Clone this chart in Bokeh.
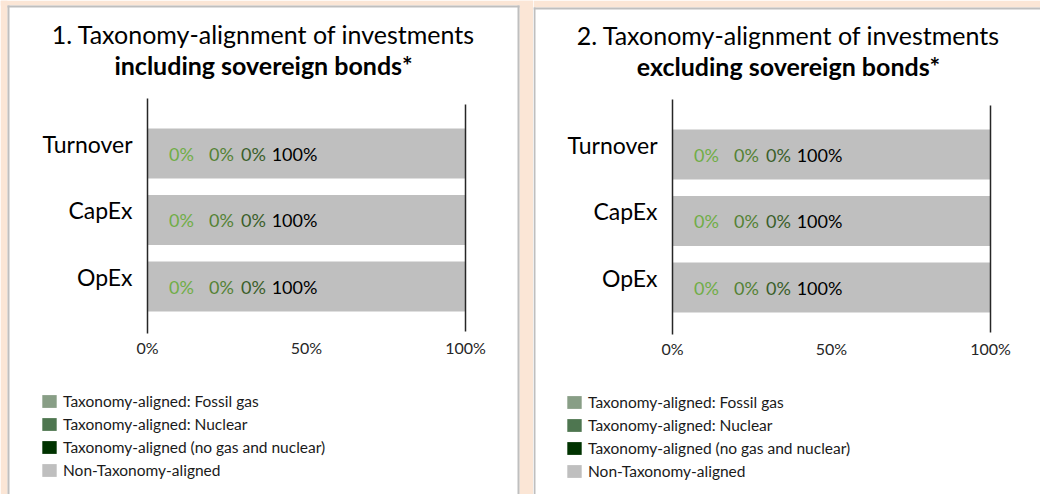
from bokeh.plotting import figure
from bokeh.models import (ColumnDataSource, Range1d, Legend, LegendItem,
                          BoxAnnotation, Row)
from bokeh.core.properties import value
from bokeh.embed import file_html
from bokeh.resources import INLINE

# ---------------- data ----------------
categories = ["Turnover", "CapEx", "OpEx"]
series_names = [
    "Taxonomy-aligned: Fossil gas",
    "Taxonomy-aligned: Nuclear",
    "Taxonomy-aligned (no gas and nuclear)",
    "Non-Taxonomy-aligned",
]
incl_fossil_gas = [0, 0, 0]
incl_nuclear = [0, 0, 0]
incl_aligned = [0, 0, 0]
incl_non_aligned = [100, 100, 100]

excl_fossil_gas = [0, 0, 0]
excl_nuclear = [0, 0, 0]
excl_aligned = [0, 0, 0]
excl_non_aligned = [100, 100, 100]

x_ticks = [0, 50, 100]
x_tick_labels = ["0%", "50%", "100%"]

titles_line1 = ["1. Taxonomy-alignment of investments",
                "2. Taxonomy-alignment of investments"]
titles_line2 = ["including sovereign bonds*", "excluding sovereign bonds*"]

# ---------------- style ----------------
FONT = value("Lato")
PEACH = "#FBE6D6"
BORDER = "#BFBFBF"
bar_colors = ["#889E86", "#4E7650", "#003300", "#BFBFBF"]
label_colors = ["#70AD47", "#548235", "#3A5E2A", "#000000"]
label_offsets = [34, 74, 106, 147]  # px offsets of the data labels inside bars

H = 494
X0, PXU = 147.0, 3.18       # pixel of 0 % (left panel), pixels per percent
Y0, PXR = 153.0, 66.5       # pixel of first category centre, pixels per row


def fx(px):
    return (px - X0) / PXU


def fy(px):
    return (px - Y0) / PXR


def make_panel(idx, vals, width, origin, dx, dy, peach, grays):
    p = figure(width=width, height=H, output_backend="svg", toolbar_location=None,
               x_axis_location=None, y_axis_location=None,
               x_range=Range1d(fx(origin - dx), fx(origin - dx + width)),
               y_range=Range1d(fy(H - dy), fy(-dy)),
               min_border=0, outline_line_color=None,
               background_fill_color="white", border_fill_color="white")
    for g in p.grid:
        g.visible = False

    def ax(px):  # absolute page px -> data x
        return fx(px - dx)

    def ay(px):
        return fy(px - dy)

    pos = list(range(len(categories)))
    keys = ["gas", "nuc", "ali", "non"]
    data = {"pos": pos, "cat": categories}
    for k, v in zip(keys, vals):
        data[k] = v
    src = ColumnDataSource(data)
    rends = p.hbar_stack(keys, y="pos", height=0.75, color=bar_colors,
                         line_color=None, source=src)

    # plot-area lines at axis min / max
    p.segment(x0=[x_ticks[0], x_ticks[-1]], x1=[x_ticks[0], x_ticks[-1]],
              y0=[fy(98), fy(104)], y1=[fy(333), fy(331)],
              line_color="#262626", line_width=1.5)

    # data labels
    cum = [0] * len(categories)
    for k, v, col, off in zip(keys, vals, label_colors, label_offsets):
        p.text(x=list(cum), y=pos, text=[f"{a:.0f}%" for a in v],
               x_offset=off, text_align="center", text_baseline="middle",
               text_font=FONT, text_font_size="18px", text_color=col)
        cum = [c + a for c, a in zip(cum, v)]

    # category labels
    p.text(x=[0] * len(categories), y=pos, text=categories, x_offset=-15,
           y_offset=-10, text_align="right", text_baseline="middle",
           text_font=FONT, text_font_size="23px", text_color="#000000")

    # tick labels
    p.text(x=x_ticks, y=[fy(347)] * len(x_ticks), text=x_tick_labels,
           text_align="center", text_baseline="middle", text_font=FONT,
           text_font_size="16px", text_color="#262626")

    # titles
    p.text(x=[fx(263)], y=[fy(33)], text=[titles_line1[idx]],
           text_align="center", text_baseline="middle", text_font=FONT,
           text_font_size="25px", text_color="#000000")
    p.text(x=[fx(263)], y=[fy(64)], text=[titles_line2[idx]],
           text_align="center", text_baseline="middle", text_font=FONT,
           text_font_size="25px", text_font_style="bold", text_color="#000000")

    # legend
    items = [LegendItem(label=n, renderers=[r]) for n, r in zip(series_names, rends)]
    leg = Legend(items=items, location=(40 + dx - origin, 14 - dy), padding=0, margin=0,
                 border_line_color=None, background_fill_alpha=0,
                 glyph_width=18, glyph_height=16, label_standoff=5,
                 label_height=20, spacing=3, label_text_font="Lato",
                 label_text_font_size="15.5px", label_text_color="#1a1a1a")
    p.add_layout(leg)

    # page background / panel borders (absolute page pixels)
    for (l, r, t, b), col in [(box, PEACH) for box in peach] + [(box, BORDER) for box in grays]:
        kw = dict(fill_color=col, fill_alpha=1, line_color=None)
        if l is not None:
            kw["left"] = ax(l)
        if r is not None:
            kw["right"] = ax(r)
        if t is not None:
            kw["top"] = ay(t)
        if b is not None:
            kw["bottom"] = ay(b)
        p.add_layout(BoxAnnotation(**kw))
    return p


p1 = make_panel(0, [incl_fossil_gas, incl_nuclear, incl_aligned, incl_non_aligned],
                533, origin=0, dx=0, dy=0,
                peach=[(None, 7, None, None), (None, None, None, 5), (519, None, None, None)],
                grays=[(7, 9, 5, None), (7, 519, 5, 7), (517, 519, 5, None)])
p2 = make_panel(1, [excl_fossil_gas, excl_nuclear, excl_aligned, excl_non_aligned],
                507, origin=533, dx=525, dy=1,
                peach=[(None, None, None, 7)],
                grays=[(533, 535, 7, None), (533, None, 7, 9)])

p = Row(children=[p1, p2], spacing=0)
open("out.html", "w").write(file_html(p, INLINE))
